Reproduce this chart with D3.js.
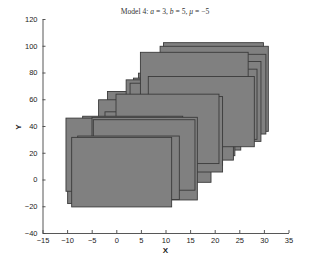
<!DOCTYPE html>
<html><head><meta charset="utf-8">
<script src="https://cdn.jsdelivr.net/npm/d3@7"></script>
<style>body{margin:0;background:#fff}svg{display:block}</style>
</head><body>
<svg id="c" width="319" height="263"></svg>
<script>
// Rectangles, drawn back to front
const xMin = [9.6, 8.9, 8.4, 7.2, 6.6, -1.8, -3.6, -2.3, 4.5, 3.5, 2.0, 2.8, 4.9, 6.5, 0.5, -0.06, -6.84, -9.89, -10.23, -4.94, -4.67, -7.85, -9.07];
const xMax = [29.9, 30.9, 30.4, 29.4, 28.6, 19.6, 17.5, 19.25, 25.3, 24.1, 21.6, 23.8, 26.8, 28.05, 21.6, 20.87, 13.5, 10.4, 10.1, 16.47, 15.99, 12.81, 11.25];
const yMin = [40, 36, 34.0, 28.5, 30, 6.5, 0, -2.1, 22.0, 17.8, 10.6, 14.5, 42, 24.5, 5.6, 11.9, -5, -18, -8.8, -15.3, -8.0, -15.0, -20.5];
const yMax = [102.3, 99.6, 93.6, 88.2, 82.5, 65.8, 59.6, 50.6, 79.5, 75.8, 74.5, 72.0, 95.1, 77.0, 62, 63.8, 47.3, 30, 45.9, 46.5, 44.7, 32.5, 31.5];
const xTicks = [-15, -10, -5, 0, 5, 10, 15, 20, 25, 30, 35];
const yTicks = [-40, -20, 0, 20, 40, 60, 80, 100, 120];

const svg = d3.select("#c");
const x = d3.scaleLinear().domain([-15, 35]).range([42.5, 288.5]);
const y = d3.scaleLinear().domain([-40, 120]).range([233, 19]);
const fmt = v => (v < 0 ? "\u2212" + Math.abs(v) : String(v));

const rects = xMin.map((d, i) => ({x0: xMin[i], x1: xMax[i], y0: yMin[i], y1: yMax[i]}));
svg.append("g").selectAll("rect").data(rects).join("rect")
  .attr("x", d => x(d.x0)).attr("y", d => y(d.y1))
  .attr("width", d => x(d.x1) - x(d.x0)).attr("height", d => y(d.y0) - y(d.y1))
  .attr("fill", "#808080").attr("stroke", "#3a3a3a").attr("stroke-width", 0.9);

const ax = svg.append("g").attr("transform", "translate(0,233)")
  .call(d3.axisBottom(x).tickValues(xTicks).tickSizeInner(-3).tickSizeOuter(0).tickPadding(5).tickFormat(fmt));
const ay = svg.append("g").attr("transform", "translate(42.5,0)")
  .call(d3.axisLeft(y).tickValues(yTicks).tickSizeInner(-3).tickSizeOuter(0).tickPadding(5).tickFormat(fmt));
[ax, ay].forEach(g => {
  g.select(".domain").attr("stroke", "#444").attr("stroke-width", 0.9);
  g.selectAll(".tick line").attr("stroke", "#444").attr("stroke-width", 0.9);
  g.selectAll("text").attr("font-family", "Liberation Sans, Arial, sans-serif").attr("font-size", 7.5).attr("fill", "#222");
});

svg.append("text").attr("x", 165.5).attr("y", 252.5).attr("text-anchor", "middle")
  .attr("font-family", "Liberation Sans, Arial, sans-serif").attr("font-size", 8).attr("font-weight", "bold").attr("fill", "#222").text("X");
svg.append("text").attr("transform", "translate(20.5,127) rotate(-90)").attr("text-anchor", "middle")
  .attr("font-family", "Liberation Sans, Arial, sans-serif").attr("font-size", 8).attr("font-weight", "bold").attr("fill", "#222").text("Y");

const t = svg.append("text").attr("x", 165).attr("y", 14).attr("text-anchor", "middle")
  .attr("font-family", "Liberation Serif, DejaVu Serif, serif").attr("font-size", 7.6).attr("fill", "#333");
t.append("tspan").text("Model 4: ");
t.append("tspan").attr("font-style", "italic").text("a");
t.append("tspan").text(" = 3, ");
t.append("tspan").attr("font-style", "italic").text("b");
t.append("tspan").text(" = 5, ");
t.append("tspan").attr("font-style", "italic").text("\u03bc");
t.append("tspan").text(" = \u22125");
</script>
</body></html>
